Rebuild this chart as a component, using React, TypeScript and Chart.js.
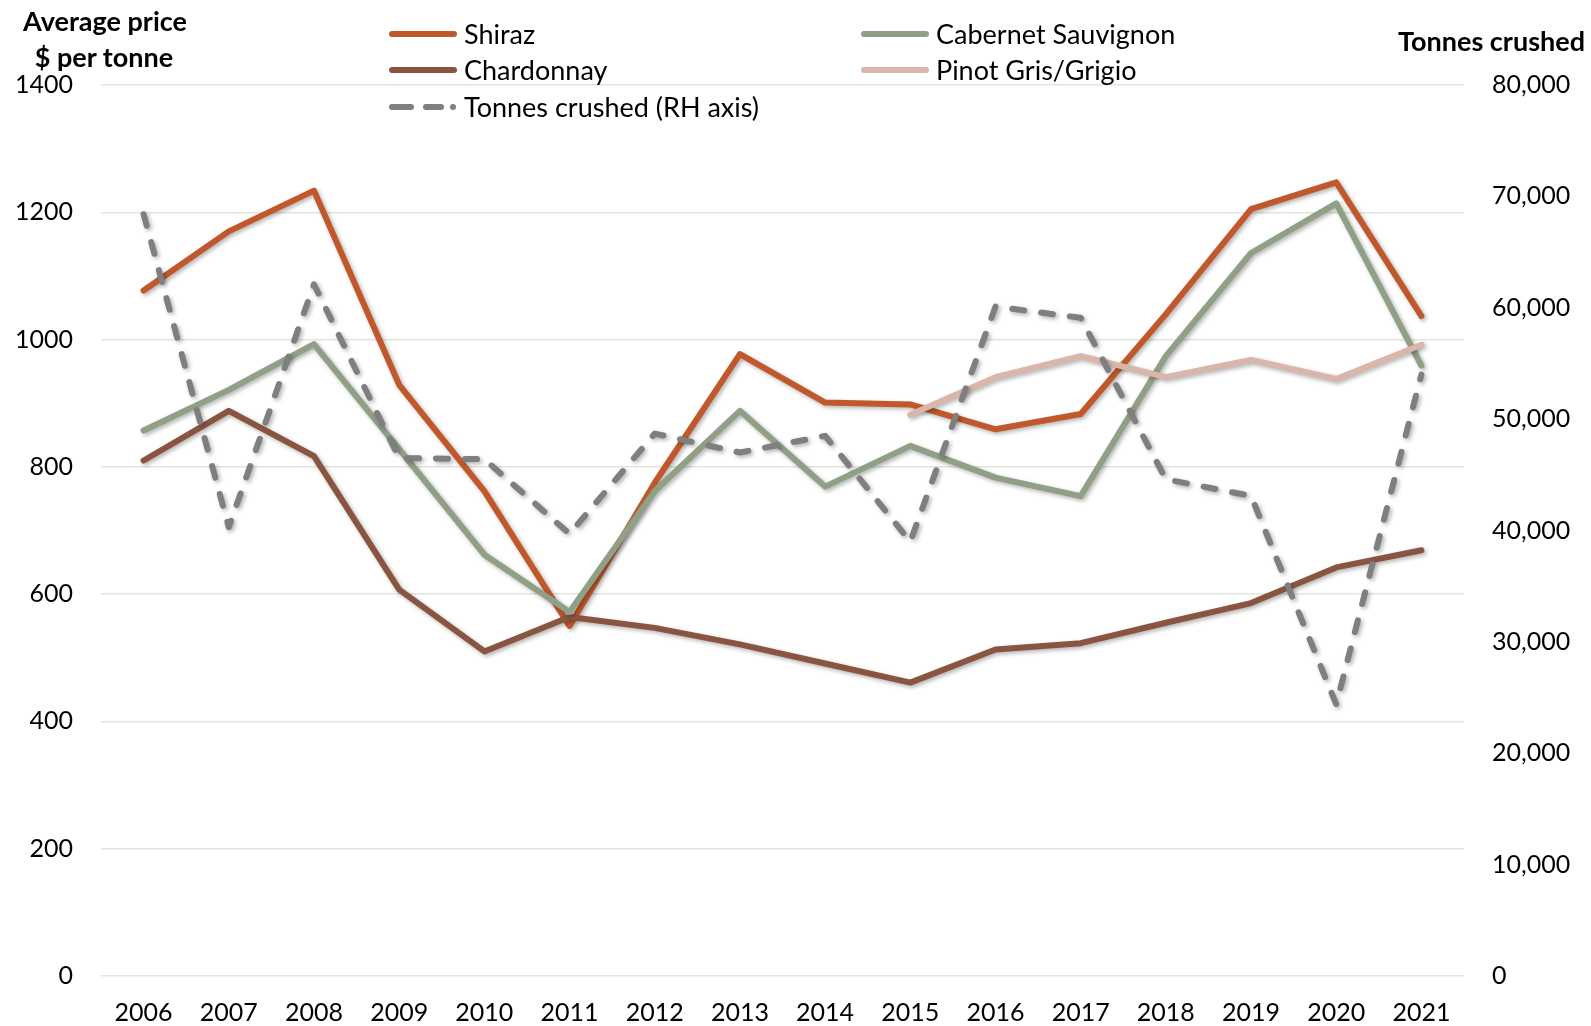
import React, { useEffect, useRef } from "react";
import { Chart, registerables } from "chart.js";

Chart.register(...registerables);

const years = ["2006", "2007", "2008", "2009", "2010", "2011", "2012", "2013", "2014", "2015", "2016", "2017", "2018", "2019", "2020", "2021"];
const shiraz = [1077, 1170, 1234, 929, 762, 550, 775, 977, 901, 898, 859, 883, 1040, 1205, 1247, 1037];
const cabernet = [857, 921, 993, 828, 662, 572, 762, 888, 769, 833, 783, 754, 974, 1136, 1214, 959];
const chardonnay = [810, 888, 817, 607, 510, 564, 547, 521, 491, 461, 513, 523, 555, 586, 642, 669];
const pinotGris = [null, null, null, null, null, null, null, null, null, 882, 941, 974, 941, 968, 938, 992];
const tonnesCrushed = [68400, 40300, 62100, 46500, 46400, 39700, 48700, 47000, 48500, 39000, 60100, 59100, 44600, 43100, 24400, 54000];

const leftAxisMax = 1400;
const leftAxisStep = 200;
const rightAxisMax = 80000;
const rightAxisStep = 10000;

const C_SHIRAZ = "#C0582B";
const C_CAB = "#8FA086";
const C_CHARD = "#8A5540";
const C_PINOT = "#D9B6A9";
const C_TONNES = "#7F7F7F";

const FONT = "Lato, 'Open Sans', sans-serif";

const legendItems = [
  { label: "Shiraz", color: C_SHIRAZ, x: 386, y: 34, dashed: false },
  { label: "Chardonnay", color: C_CHARD, x: 386, y: 70, dashed: false },
  { label: "Tonnes crushed (RH axis)", color: C_TONNES, x: 386, y: 106.5, dashed: true },
  { label: "Cabernet Sauvignon", color: C_CAB, x: 858, y: 34, dashed: false },
  { label: "Pinot Gris/Grigio", color: C_PINOT, x: 858, y: 70, dashed: false },
];

export default function App() {
  const ref = useRef<HTMLCanvasElement>(null);

  useEffect(() => {
    const shadowPlugin = {
      id: "lineShadow",
      beforeDatasetDraw(chart: any) {
        const c = chart.ctx;
        c.save();
        c.shadowColor = "rgba(0,0,0,0.3)";
        c.shadowBlur = 4;
        c.shadowOffsetX = 2;
        c.shadowOffsetY = 2;
      },
      afterDatasetDraw(chart: any) {
        chart.ctx.restore();
      },
    };

    const common = {
      borderWidth: 6,
      pointRadius: 0,
      pointHoverRadius: 0,
      tension: 0,
      borderCapStyle: "round" as const,
      borderJoinStyle: "round" as const,
      fill: false,
    };

    const tickFont = { family: FONT, size: 25 };

    const chart = new Chart(ref.current as HTMLCanvasElement, {
      type: "line",
      data: {
        labels: years,
        datasets: [
          { ...common, label: "Shiraz", data: shiraz, borderColor: C_SHIRAZ, backgroundColor: C_SHIRAZ, yAxisID: "y", order: 4 },
          { ...common, label: "Chardonnay", data: chardonnay, borderColor: C_CHARD, backgroundColor: C_CHARD, yAxisID: "y", order: 3 },
          { ...common, label: "Cabernet Sauvignon", data: cabernet, borderColor: C_CAB, backgroundColor: C_CAB, yAxisID: "y", order: 2 },
          { ...common, label: "Pinot Gris/Grigio", data: pinotGris, borderColor: C_PINOT, backgroundColor: C_PINOT, yAxisID: "y", order: 1 },
          { ...common, label: "Tonnes crushed (RH axis)", data: tonnesCrushed, borderColor: C_TONNES, backgroundColor: C_TONNES, yAxisID: "y1", borderDash: [12, 17], order: 0 },
        ],
      },
      options: {
        responsive: false,
        animation: false,
        devicePixelRatio: 1,
        layout: { padding: { top: 85, left: 0, right: 0, bottom: 0 } },
        plugins: {
          legend: { display: false },
          tooltip: { enabled: false },
          title: { display: false },
        },
        scales: {
          x: {
            type: "category",
            offset: true,
            grid: { display: false, drawTicks: false },
            border: { display: false },
            ticks: { font: tickFont, color: "#000", padding: 22, maxRotation: 0, autoSkip: false },
            afterFit(s: any) { s.height = 50; },
          },
          y: {
            position: "left",
            min: 0,
            max: leftAxisMax,
            ticks: { stepSize: leftAxisStep, font: tickFont, color: "#000", padding: 28, callback: (v: any) => String(v) },
            grid: { color: "#E4E4DC", lineWidth: 1.5, drawTicks: false },
            border: { display: false },
            afterFit(s: any) { s.width = 101; },
          },
          y1: {
            position: "right",
            min: 0,
            max: rightAxisMax,
            ticks: {
              stepSize: rightAxisStep,
              font: tickFont,
              color: "#000",
              padding: 28,
              callback: (v: any) => Number(v).toLocaleString("en-US"),
            },
            grid: { display: false, drawTicks: false },
            border: { display: false },
            afterFit(s: any) { s.width = 127; },
          },
        },
      },
      plugins: [shadowPlugin],
    } as any);
    return () => chart.destroy();
  }, []);

  const textBase: React.CSSProperties = {
    position: "absolute",
    fontFamily: FONT,
    fontSize: 27,
    color: "#000",
    whiteSpace: "nowrap",
    lineHeight: "30px",
  };

  return (
    <div style={{ position: "absolute", left: 0, top: 0, width: 1591, height: 1026, background: "#fff", overflow: "hidden" }}>
      <canvas ref={ref} width={1591} height={1026} style={{ position: "absolute", left: 0, top: 0, width: 1591, height: 1026 }} />
      <div style={{ ...textBase, fontWeight: 700, left: 105, top: 21, transform: "translate(-50%,-50%)" }}>Average price</div>
      <div style={{ ...textBase, fontWeight: 700, left: 104, top: 57, transform: "translate(-50%,-50%)" }}>$ per tonne</div>
      <div style={{ ...textBase, fontWeight: 700, right: 6, top: 41, transform: "translateY(-50%)" }}>Tonnes crushed</div>
      {legendItems.map((it) => (
        <div key={it.label} style={{ position: "absolute", left: it.x, top: it.y, transform: "translateY(-50%)", display: "flex", alignItems: "center" }}>
          <svg width={74} height={12} style={{ display: "block" }}>
            {it.dashed ? (
              <g stroke={it.color} strokeWidth={6} strokeLinecap="round">
                <line x1={6} y1={6} x2={25} y2={6} />
                <line x1={40} y1={6} x2={55} y2={6} />
                <circle cx={67} cy={6} r={3} fill={it.color} stroke="none" />
              </g>
            ) : (
              <line x1={6} y1={6} x2={68} y2={6} stroke={it.color} strokeWidth={6} strokeLinecap="round" />
            )}
          </svg>
          <span style={{ fontFamily: FONT, fontSize: 27, color: "#000", whiteSpace: "nowrap", lineHeight: "30px", marginLeft: 4 }}>{it.label}</span>
        </div>
      ))}
    </div>
  );
}
